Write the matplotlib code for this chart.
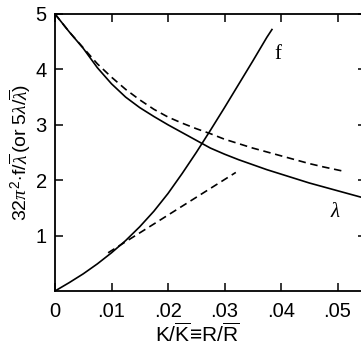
import matplotlib
matplotlib.use("Agg")
import matplotlib.pyplot as plt

# --- data ---
x_lam = [0.0, 0.0025, 0.005, 0.0075, 0.010, 0.0125, 0.015, 0.0175, 0.020, 0.0225,
         0.025, 0.0275, 0.030, 0.0325, 0.035, 0.0375, 0.040, 0.0425, 0.045, 0.0475,
         0.050, 0.0525, 0.055]
y_lam = [5.00, 4.68, 4.38, 4.03, 3.74, 3.50, 3.31, 3.15, 3.00, 2.86,
         2.72, 2.58, 2.47, 2.37, 2.28, 2.19, 2.11, 2.03, 1.95, 1.88,
         1.81, 1.74, 1.67]

x_lam_dash = [0.0, 0.0025, 0.005, 0.0075, 0.010, 0.0125, 0.015, 0.0175, 0.020, 0.0225,
              0.025, 0.0275, 0.030, 0.0325, 0.035, 0.0375, 0.040, 0.0425, 0.045, 0.0475,
              0.0507]
y_lam_dash = [5.00, 4.68, 4.39, 4.10, 3.86, 3.64, 3.45, 3.28, 3.14, 3.03,
              2.93, 2.84, 2.74, 2.66, 2.58, 2.51, 2.44, 2.37, 2.30, 2.24,
              2.17]

x_f = [0.0, 0.0025, 0.005, 0.0075, 0.010, 0.0125, 0.015, 0.0175, 0.020, 0.0225,
       0.025, 0.0275, 0.030, 0.0325, 0.035, 0.0375, 0.0384]
y_f = [0.0, 0.15, 0.31, 0.49, 0.69, 0.91, 1.16, 1.44, 1.76, 2.12,
       2.50, 2.90, 3.31, 3.73, 4.15, 4.58, 4.72]

x_tan = [0.0094, 0.0320]
y_tan = [0.69, 2.14]

xticks = [0.0, 0.01, 0.02, 0.03, 0.04, 0.05]
xticklabels = ["0", ".01", ".02", ".03", ".04", ".05"]
yticks = [1, 2, 3, 4, 5]
yticklabels = ["1", "2", "3", "4", "5"]

plt.rcParams['font.family'] = ['Liberation Sans', 'DejaVu Sans']
plt.rcParams['mathtext.fontset'] = 'custom'
plt.rcParams['mathtext.rm'] = 'Liberation Sans'
plt.rcParams['mathtext.it'] = 'Liberation Serif:italic'
plt.rcParams['mathtext.bf'] = 'Liberation Sans:bold'

fig = plt.figure(figsize=(3.61, 3.48), dpi=100)
ax = fig.add_axes([55/361, 57/348, 0.055*5650/361, 277/348])

lw = 1.2
dash = (4.5, 2.8)
ax.plot(x_lam, y_lam, color='black', lw=lw)
ax.plot(x_lam_dash, y_lam_dash, color='black', lw=lw, dashes=dash)
ax.plot(x_f, y_f, color='black', lw=lw)
ax.plot(x_tan, y_tan, color='black', lw=lw, dashes=dash)

ax.set_xlim(0, 0.055)
ax.set_ylim(0, 5)

ax.set_xticks(xticks)
ax.set_xticklabels(xticklabels)
ax.set_yticks(yticks)
ax.set_yticklabels(yticklabels)

ax.tick_params(direction='in', length=6, width=1.1, labelsize=14.5,
               top=True, right=True, pad=8, colors='black')
ax.tick_params(axis='y', pad=6)
for s in ax.spines.values():
    s.set_linewidth(1.3)

ax.text(0.0388, 4.18, "f", fontsize=15, family='Liberation Serif', va='baseline')
ax.text(0.0487, 1.33, r"$\lambda$", fontsize=15, va='baseline')

ax.set_ylabel(r"$32\pi^{2}\!\cdot\!\mathrm{f}/\overline{\lambda}\,(\mathrm{or}\ 5\lambda/\overline{\lambda})$",
              fontsize=14)
ax.yaxis.set_label_coords(-0.072, 0.50)
ax.set_xlabel(r"$\mathrm{K}/\overline{\mathrm{K}}\!\equiv\!\mathrm{R}/\overline{\mathrm{R}}$",
              fontsize=15)
ax.xaxis.set_label_coords((197-55)/310.75, -0.112)

fig.savefig("out.png", dpi=100)
